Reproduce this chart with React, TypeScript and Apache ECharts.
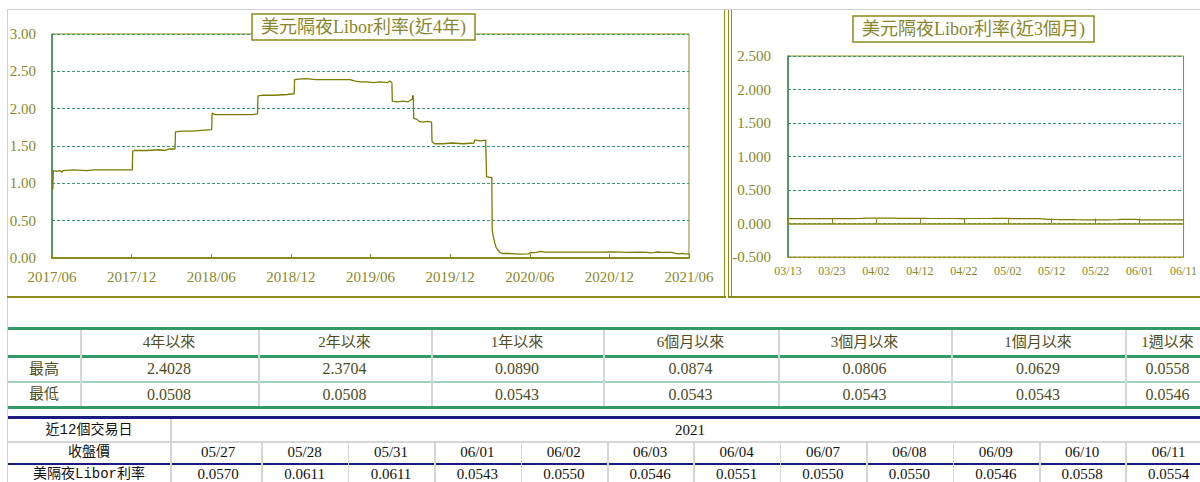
import React, { useEffect, useRef } from "react";
import * as echarts from "echarts";

// ---------- data ----------
const fourYearStart = "2017-06-12";
const fourYearTickLabels = ["2017/06", "2017/12", "2018/06", "2018/12", "2019/06", "2019/12", "2020/06", "2020/12", "2021/06"];

const fourYearDates = [
  "2017-06-13", "2017-06-14", "2017-06-15", "2017-06-22", "2017-06-30", "2017-07-05", "2017-07-07", "2017-08-01", "2017-08-31", "2017-09-15",
  "2017-10-16", "2017-11-15", "2017-12-13", "2017-12-14", "2017-12-18", "2018-01-15", "2018-02-12", "2018-02-26", "2018-03-08", "2018-03-21",
  "2018-03-22", "2018-04-05", "2018-04-30", "2018-05-21", "2018-06-13", "2018-06-14", "2018-06-21", "2018-07-16", "2018-08-15", "2018-09-12",
  "2018-09-26", "2018-09-27", "2018-10-09", "2018-11-05", "2018-12-03", "2018-12-19", "2018-12-20", "2019-01-04", "2019-01-15", "2019-02-08",
  "2019-03-01", "2019-03-25", "2019-04-26", "2019-05-08", "2019-05-20", "2019-06-03", "2019-06-20", "2019-07-03", "2019-07-22", "2019-07-26",
  "2019-07-31", "2019-08-01", "2019-08-12", "2019-08-26", "2019-09-06", "2019-09-16", "2019-09-17", "2019-09-18", "2019-09-19", "2019-09-26",
  "2019-10-01", "2019-10-10", "2019-10-21", "2019-10-30", "2019-10-31", "2019-11-06", "2019-11-25", "2019-12-16", "2020-01-10", "2020-02-04",
  "2020-02-06", "2020-02-20", "2020-03-02", "2020-03-04", "2020-03-10", "2020-03-16", "2020-03-17", "2020-03-19", "2020-03-23", "2020-03-26",
  "2020-03-31", "2020-04-03", "2020-04-08", "2020-04-24", "2020-05-08", "2020-05-20", "2020-06-08", "2020-06-12", "2020-06-26", "2020-07-06",
  "2020-07-15", "2020-08-14", "2020-09-15", "2020-10-15", "2020-11-16", "2020-12-15", "2021-01-05", "2021-01-20", "2021-02-16", "2021-03-08",
  "2021-03-15", "2021-03-22", "2021-04-01", "2021-04-07", "2021-04-22", "2021-05-03", "2021-05-11", "2021-05-18", "2021-05-28", "2021-06-01",
  "2021-06-11",
];
const fourYearRates = [
  0.92, 0.93, 1.17, 1.16, 1.17, 1.15, 1.17, 1.18, 1.17, 1.18,
  1.18, 1.18, 1.18, 1.43, 1.44, 1.44, 1.45, 1.44, 1.46, 1.46,
  1.69, 1.70, 1.70, 1.71, 1.72, 1.94, 1.92, 1.92, 1.92, 1.92,
  1.93, 2.17, 2.18, 2.18, 2.19, 2.20, 2.39, 2.40, 2.4028, 2.39,
  2.39, 2.39, 2.39, 2.37, 2.36, 2.36, 2.35, 2.36, 2.35, 2.37,
  2.35, 2.10, 2.09, 2.10, 2.09, 2.13, 2.18, 2.17, 1.87, 1.86,
  1.83, 1.82, 1.83, 1.82, 1.56, 1.53, 1.53, 1.54, 1.53, 1.54,
  1.58, 1.57, 1.58, 1.09, 1.08, 1.08, 0.38, 0.30, 0.20, 0.14,
  0.10, 0.08, 0.06, 0.06, 0.055, 0.0508, 0.055, 0.07, 0.075, 0.089,
  0.08, 0.08, 0.08, 0.08, 0.08, 0.081, 0.08, 0.075, 0.08, 0.075,
  0.07, 0.073, 0.0806, 0.077, 0.074, 0.075, 0.0629, 0.056, 0.0611, 0.0543,
  0.0554,
];

const threeMonthDates = [
  "03/13", "03/14", "03/15", "03/16", "03/17", "03/18", "03/19", "03/20", "03/21", "03/22",
  "03/23", "03/24", "03/25", "03/26", "03/27", "03/28", "03/29", "03/30", "03/31", "04/01",
  "04/02", "04/03", "04/04", "04/05", "04/06", "04/07", "04/08", "04/09", "04/10", "04/11",
  "04/12", "04/13", "04/14", "04/15", "04/16", "04/17", "04/18", "04/19", "04/20", "04/21",
  "04/22", "04/23", "04/24", "04/25", "04/26", "04/27", "04/28", "04/29", "04/30", "05/01",
  "05/02", "05/03", "05/04", "05/05", "05/06", "05/07", "05/08", "05/09", "05/10", "05/11",
  "05/12", "05/13", "05/14", "05/15", "05/16", "05/17", "05/18", "05/19", "05/20", "05/21",
  "05/22", "05/23", "05/24", "05/25", "05/26", "05/27", "05/28", "05/29", "05/30", "05/31",
  "06/01", "06/02", "06/03", "06/04", "06/05", "06/06", "06/07", "06/08", "06/09", "06/10",
  "06/11",
];
const threeMonthRates = [
  0.0725, 0.0725, 0.0731, 0.0728, 0.0720, 0.0718, 0.0715, 0.0715, 0.0715, 0.0719,
  0.0721, 0.0725, 0.0730, 0.0738, 0.0738, 0.0738, 0.0745, 0.0770, 0.0790, 0.0806,
  0.0806, 0.0806, 0.0806, 0.0806, 0.0788, 0.0770, 0.0763, 0.0760, 0.0760, 0.0760,
  0.0758, 0.0755, 0.0750, 0.0750, 0.0748, 0.0748, 0.0748, 0.0745, 0.0744, 0.0740,
  0.0741, 0.0743, 0.0743, 0.0743, 0.0745, 0.0748, 0.0750, 0.0755, 0.0760, 0.0760,
  0.0760, 0.0735, 0.0735, 0.0730, 0.0725, 0.0718, 0.0718, 0.0718, 0.0700, 0.0629,
  0.0610, 0.0595, 0.0588, 0.0588, 0.0588, 0.0575, 0.0560, 0.0553, 0.0549, 0.0545,
  0.0545, 0.0545, 0.0543, 0.0548, 0.0556, 0.0570, 0.0611, 0.0611, 0.0611, 0.0611,
  0.0543, 0.0550, 0.0546, 0.0551, 0.0551, 0.0551, 0.0550, 0.0550, 0.0546, 0.0558,
  0.0554,
];

const statHeaders = ["4年以來", "2年以來", "1年以來", "6個月以來", "3個月以來", "1個月以來", "1週以來"];
const statHigh = ["2.4028", "2.3704", "0.0890", "0.0874", "0.0806", "0.0629", "0.0558"];
const statLow = ["0.0508", "0.0508", "0.0543", "0.0543", "0.0543", "0.0543", "0.0546"];
const statRowLabels = ["最高", "最低"];

const recentYear = "2021";
const recentDates = ["05/27", "05/28", "05/31", "06/01", "06/02", "06/03", "06/04", "06/07", "06/08", "06/09", "06/10", "06/11"];
const recentRates = ["0.0570", "0.0611", "0.0611", "0.0543", "0.0550", "0.0546", "0.0551", "0.0550", "0.0550", "0.0546", "0.0558", "0.0554"];

// ---------- styles ----------
const SERIF = '"Liberation Serif", "Times New Roman", serif';
const MIX = '"Liberation Serif", "Noto Sans CJK TC", serif';
const TABLE_CJK = '"Liberation Mono", "Noto Sans CJK TC", monospace';
const OLIVE = "#8b8b1a";
const OLIVE_TEXT = "#87872a";
const LINE = "#7b7b00";
const GREEN_AXIS = "#2e8b57";
const GREEN_DASH = "#3c9c70";

const DAY = 86400000;
const toDay = (d: string) => Math.round((Date.parse(d) - Date.parse(fourYearStart)) / DAY);

const abs = (left: number, top: number, width: number, height: number, extra: React.CSSProperties = {}): React.CSSProperties => ({
  position: "absolute",
  left,
  top,
  width,
  height,
  ...extra,
});

function Charts() {
  const ref = useRef<HTMLDivElement>(null);
  useEffect(() => {
    if (!ref.current) return;
    const chart = echarts.init(ref.current, undefined, { renderer: "svg" });
    const fourYearData = fourYearDates.map((d, i) => [toDay(d), fourYearRates[i]]);
    const labelStyle = { color: OLIVE_TEXT, fontFamily: SERIF };
    chart.setOption({
      animation: false,
      title: [
        {
          text: "美元隔夜Libor利率(近4年)",
          left: 252,
          top: 14,
          padding: [4, 9, 4, 9],
          borderColor: OLIVE,
          borderWidth: 1.5,
          backgroundColor: "#ffffff",
          textStyle: { color: OLIVE_TEXT, fontSize: 18, fontWeight: "normal", fontFamily: MIX },
        },
        {
          text: "美元隔夜Libor利率(近3個月)",
          left: 853,
          top: 16,
          padding: [4, 9, 4, 9],
          borderColor: OLIVE,
          borderWidth: 1.5,
          backgroundColor: "#ffffff",
          textStyle: { color: OLIVE_TEXT, fontSize: 18, fontWeight: "normal", fontFamily: MIX },
        },
      ],
      grid: [
        { left: 52, top: 34, width: 637, height: 224, show: true, borderColor: OLIVE, borderWidth: 1, backgroundColor: "transparent" },
        { left: 788, top: 56, width: 404, height: 201, show: true, borderColor: OLIVE, borderWidth: 1, backgroundColor: "transparent" },
      ],
      xAxis: [
        {
          gridIndex: 0,
          type: "value",
          min: 0,
          max: 1460,
          interval: 182.5,
          axisLine: { show: true, lineStyle: { color: OLIVE, width: 2 } },
          axisTick: { show: true, inside: true, length: 4, lineStyle: { color: OLIVE } },
          axisLabel: {
            ...labelStyle,
            fontSize: 15,
            margin: 11,
            formatter: (v: number) => fourYearTickLabels[Math.round(v / 182.5)] ?? "",
          },
          splitLine: { show: false },
        },
        {
          gridIndex: 1,
          type: "category",
          data: threeMonthDates,
          boundaryGap: false,
          position: "bottom",
          axisLine: { show: true, onZero: false, lineStyle: { color: OLIVE, type: [3, 2] } },
          axisTick: { show: false },
          axisLabel: { ...labelStyle, fontSize: 12, margin: 8, interval: 9 },
          splitLine: { show: false },
        },
        {
          gridIndex: 1,
          type: "category",
          data: threeMonthDates,
          boundaryGap: false,
          position: "top",
          axisLine: { show: true, onZero: true, lineStyle: { color: OLIVE, width: 1.5 } },
          axisTick: { show: true, inside: false, interval: 9, length: 5, lineStyle: { color: OLIVE } },
          axisLabel: { show: false },
          splitLine: { show: false },
        },
      ],
      yAxis: [
        {
          gridIndex: 0,
          type: "value",
          min: 0,
          max: 3,
          interval: 0.5,
          axisLine: { show: true, lineStyle: { color: GREEN_AXIS, width: 1.5 } },
          axisTick: { show: false },
          axisLabel: { ...labelStyle, fontSize: 15, margin: 16, formatter: (v: number) => v.toFixed(2) },
          splitLine: { show: true, lineStyle: { color: GREEN_DASH, type: [3, 2], width: 1 } },
        },
        {
          gridIndex: 1,
          type: "value",
          min: -0.5,
          max: 2.5,
          interval: 0.5,
          axisLine: { show: true, lineStyle: { color: GREEN_AXIS, width: 1.5 } },
          axisTick: { show: false },
          axisLabel: { ...labelStyle, fontSize: 15, margin: 17, formatter: (v: number) => v.toFixed(3) },
          splitLine: { show: true, lineStyle: { color: GREEN_DASH, type: [3, 2], width: 1 } },
        },
      ],
      series: [
        {
          type: "line",
          xAxisIndex: 0,
          yAxisIndex: 0,
          data: fourYearData,
          showSymbol: false,
          lineStyle: { color: LINE, width: 1.3 },
          itemStyle: { color: LINE },
        },
        {
          type: "line",
          xAxisIndex: 1,
          yAxisIndex: 1,
          data: threeMonthRates,
          showSymbol: false,
          lineStyle: { color: LINE, width: 1.2 },
          itemStyle: { color: LINE },
        },
      ],
    });
    return () => chart.dispose();
  }, []);
  return <div ref={ref} style={abs(0, 0, 1200, 300)} />;
}

const statBounds = [8, 80, 258, 431, 603, 778, 951, 1125, 1210];
const STAT_COLOR = "#4d4d1f";
const recentFirstCol = [8, 170];
const recentStart = 175;
const recentWidth = 86.4;

function Cell(props: { x0: number; x1: number; y0: number; y1: number; text: string; font: string; size: number; color: string }) {
  const { x0, x1, y0, y1, text, font, size, color } = props;
  return (
    <div
      style={abs(x0, y0, x1 - x0, y1 - y0, {
        textAlign: "center",
        lineHeight: `${y1 - y0}px`,
        fontFamily: font,
        fontSize: size,
        color,
        whiteSpace: "nowrap",
      })}
    >
      {text}
    </div>
  );
}

export default function App() {
  useEffect(() => {
    document.body.style.margin = "0";
    document.body.style.background = "#ffffff";
  }, []);

  const statRows = [
    { y0: 330, y1: 355, cells: statHeaders, label: "" },
    { y0: 357, y1: 381, cells: statHigh, label: statRowLabels[0] },
    { y0: 383, y1: 406, cells: statLow, label: statRowLabels[1] },
  ];

  return (
    <div style={{ position: "relative", width: 1200, height: 482, overflow: "hidden", background: "#fff" }}>
      <Charts />
      {/* frames */}
      <div style={abs(7, 9, 1193, 1, { background: "#d0d0d0" })} />
      <div style={abs(7, 9, 1, 473, { background: "#d0d0d0" })} />
      <div style={abs(7, 296, 719, 2, { background: OLIVE })} />
      <div style={abs(724, 10, 1, 287, { background: OLIVE })} />
      <div style={abs(728, 10, 1, 288, { background: OLIVE })} />
      <div style={abs(731, 10, 1, 288, { background: OLIVE })} />
      <div style={abs(728, 296, 472, 2, { background: OLIVE })} />

      {/* statistics table */}
      <div style={abs(8, 327, 1192, 3, { background: "#339966" })} />
      <div style={abs(8, 355, 1192, 3, { background: "#339966" })} />
      <div style={abs(8, 381, 1192, 2, { background: "#9fd3bb" })} />
      <div style={abs(8, 406, 1192, 3, { background: "#339966" })} />
      {statBounds.slice(1, -1).map((x) => (
        <div key={"sv" + x} style={abs(x, 330, 1.5, 76, { background: "#d6d6d6" })} />
      ))}
      {statRows.map((r, ri) => (
        <React.Fragment key={"sr" + ri}>
          {r.label && (
            <Cell x0={statBounds[0]} x1={statBounds[1]} y0={r.y0} y1={r.y1} text={r.label} font={MIX} size={15} color={STAT_COLOR} />
          )}
          {r.cells.map((t, ci) => (
            <Cell
              key={"sc" + ci}
              x0={statBounds[ci + 1]}
              x1={statBounds[ci + 2]}
              y0={r.y0}
              y1={r.y1}
              text={t}
              font={MIX}
              size={ri === 0 ? 15 : 16}
              color={STAT_COLOR}
            />
          ))}
        </React.Fragment>
      ))}

      {/* recent trading days table */}
      <div style={abs(8, 416, 1192, 3, { background: "#1a1a80" })} />
      <div style={abs(8, 441, 1192, 1.5, { background: "#d6d6d6" })} />
      <div style={abs(8, 463, 1192, 2, { background: "#1a1a80" })} />
      <div style={abs(recentFirstCol[1], 419, 1.5, 63, { background: "#d6d6d6" })} />
      {recentDates.slice(1).map((_, i) => (
        <div key={"rv" + i} style={abs(recentStart + recentWidth * (i + 1), 442, 1.5, 40, { background: "#d6d6d6" })} />
      ))}
      <Cell x0={recentFirstCol[0]} x1={recentFirstCol[1]} y0={419} y1={441} text="近12個交易日" font={TABLE_CJK} size={14} color="#111" />
      <Cell x0={recentFirstCol[1]} x1={1210} y0={419} y1={441} text={recentYear} font={SERIF} size={15} color="#111" />
      <Cell x0={recentFirstCol[0]} x1={recentFirstCol[1]} y0={442} y1={463} text="收盤價" font={TABLE_CJK} size={14} color="#111" />
      <Cell x0={recentFirstCol[0]} x1={recentFirstCol[1]} y0={465} y1={484} text="美隔夜Libor利率" font={TABLE_CJK} size={14} color="#111" />
      {recentDates.map((d, i) => (
        <Cell
          key={"rd" + i}
          x0={recentStart + recentWidth * i}
          x1={recentStart + recentWidth * (i + 1)}
          y0={442}
          y1={463}
          text={d}
          font={SERIF}
          size={15}
          color="#111"
        />
      ))}
      {recentRates.map((v, i) => (
        <Cell
          key={"rr" + i}
          x0={recentStart + recentWidth * i}
          x1={recentStart + recentWidth * (i + 1)}
          y0={465}
          y1={484}
          text={v}
          font={SERIF}
          size={15}
          color="#111"
        />
      ))}
    </div>
  );
}
